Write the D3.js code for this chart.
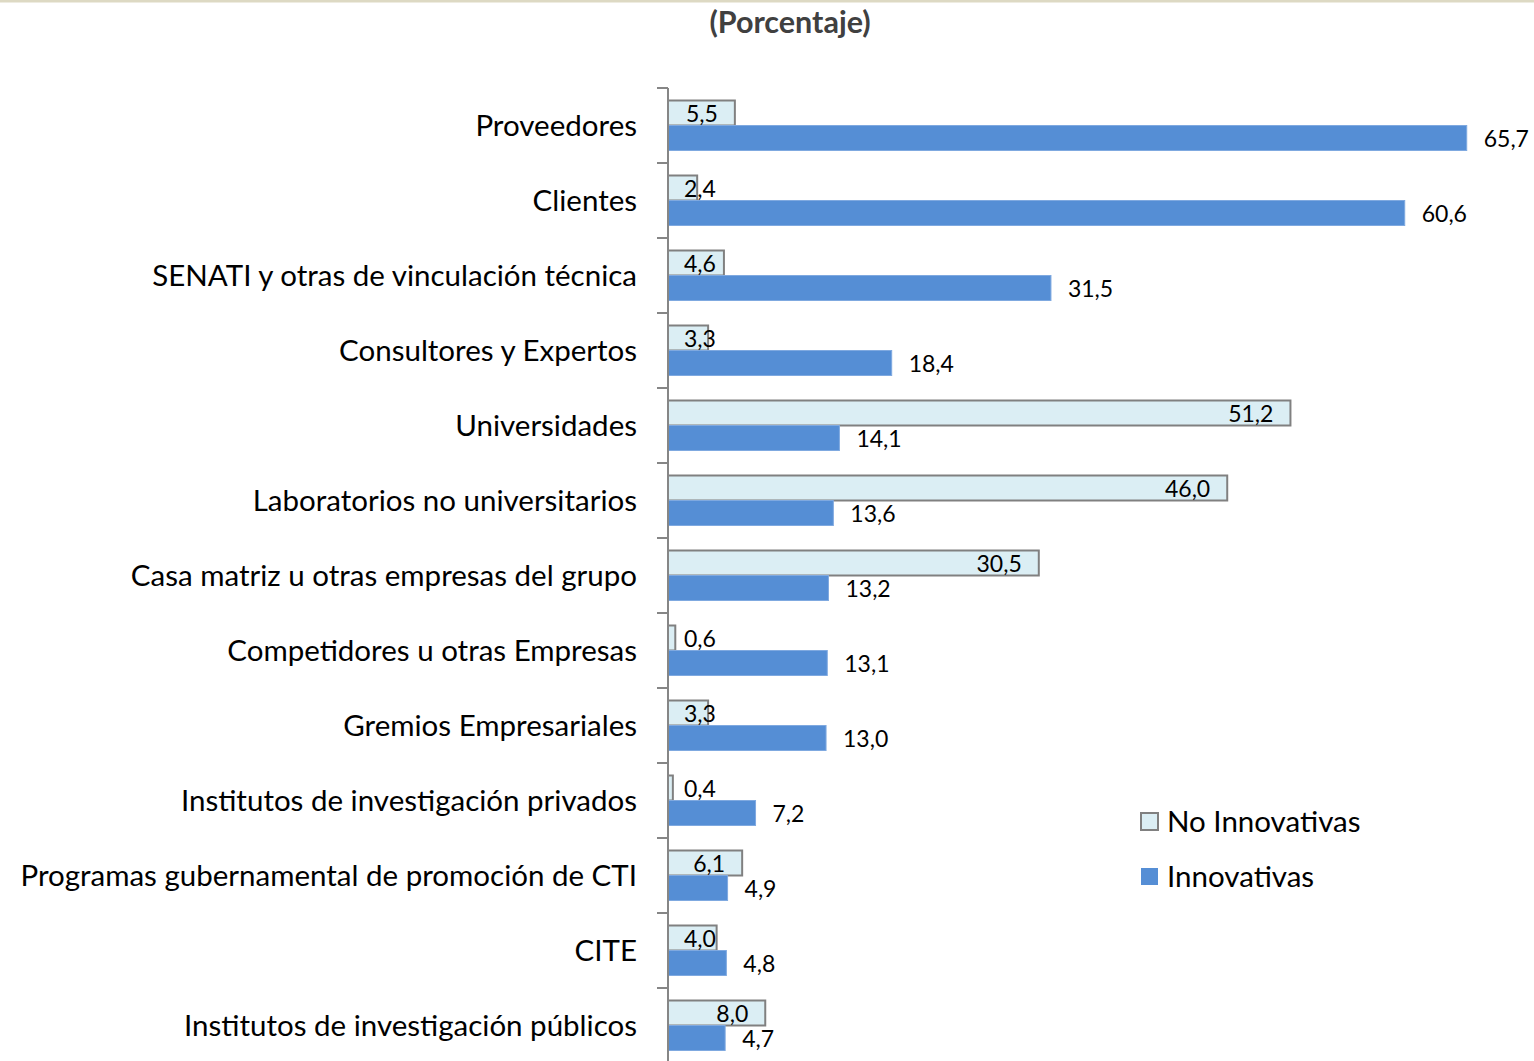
<!DOCTYPE html>
<html>
<head>
<meta charset="utf-8">
<script src="https://d3js.org/d3.v7.min.js"></script>
<style>
  body { margin: 0; background: white; }
  text { font-family: Lato, "Open Sans", sans-serif; }
</style>
</head>
<body>
<svg width="1534" height="1061"></svg>
<script>

const categories = [
  "Proveedores",
  "Clientes",
  "SENATI y otras de vinculación técnica",
  "Consultores y Expertos",
  "Universidades",
  "Laboratorios no universitarios",
  "Casa matriz u otras empresas del grupo",
  "Competidores u otras Empresas",
  "Gremios Empresariales",
  "Institutos de investigación privados",
  "Programas gubernamental de promoción de CTI",
  "CITE",
  "Institutos de investigación públicos"
]
const noInnovativas = [5.5, 2.4, 4.6, 3.3, 51.2, 46.0, 30.5, 0.6, 3.3, 0.4, 6.1, 4.0, 8.0]
const innovativas = [65.7, 60.6, 31.5, 18.4, 14.1, 13.6, 13.2, 13.1, 13.0, 7.2, 4.9, 4.8, 4.7]
const seriesNames = ["No Innovativas", "Innovativas"]
const xDomain = [0, 70]

let svg = d3.select("svg")

// thin beige rule on top
svg.append("line")
  .attr("x1", 0).attr("x2", 1534)
  .attr("y1", 1).attr("y2", 1)
  .attr("stroke", "#ddd9c3")
  .attr("stroke-width", 3)

svg.append("text")
  .attr("x", 790)
  .attr("y", 33)
  .attr("text-anchor", "middle")
  .attr("font-size", "30.5px")
  .attr("font-weight", "bold")
  .attr("fill", "#404040")
  .text("(Porcentaje)")

let x = d3.scaleLinear().domain(xDomain).range([668, 1519])
let y = d3.scaleBand().domain(categories).range([88, 88 + categories.length * 75])
let sub = d3.scaleBand().domain(seriesNames).range([12.5, 62.5])
let fmt = d3.formatLocale({decimal: ",", thousands: ".", grouping: [3], currency: ["", ""]}).format(".1f")

let color = {"No Innovativas": "#dbeef4", "Innovativas": "#558ed5"}

let rows = categories.map((c, i) => {
  return {cat: c, vals: [
    {s: "No Innovativas", v: noInnovativas[i]},
    {s: "Innovativas", v: innovativas[i]}
  ]}
})

let g = svg.append("g")

let groups = g.selectAll("g.cat")
  .data(rows)
  .join("g")
  .attr("class", "cat")
  .attr("transform", (d) => {return "translate(0," + y(d.cat) + ")"})

groups.selectAll("rect")
  .data((d) => {return d.vals})
  .join("rect")
  .attr("x", x(0))
  .attr("y", (d) => {return sub(d.s)})
  .attr("width", (d) => {return x(d.v) - x(0)})
  .attr("height", sub.bandwidth())
  .attr("fill", (d) => {return color[d.s]})
  .attr("stroke", (d) => {return d.s == "No Innovativas" ? "#808080" : "#7fa9e0"})
  .attr("stroke-width", (d) => {return d.s == "No Innovativas" ? 2 : 1})

// labels: No Innovativas inside end, Innovativas outside end
groups.selectAll("text.val")
  .data((d) => {return d.vals})
  .join("text")
  .attr("class", "val")
  .attr("font-size", "23px")
  .attr("fill", "#000")
  .attr("y", (d) => {return sub(d.s) + sub.bandwidth() / 2})
  .attr("dy", "0.41em")
  .text((d) => {return fmt(d.v)})
  .attr("x", function (d) {
    if (d.s == "Innovativas") return x(d.v) + 17
    let w = this.getComputedTextLength()
    return Math.max(x(d.v) - 17 - w, x(0) + 16)
  })

// category axis
svg.append("line")
  .attr("x1", x(0)).attr("x2", x(0))
  .attr("y1", y.range()[0]).attr("y2", y.range()[1])
  .attr("stroke", "#868686")
  .attr("stroke-width", 2)

svg.selectAll("line.tick")
  .data(categories.concat(["end"]))
  .join("line")
  .attr("class", "tick")
  .attr("x1", x(0) - 11).attr("x2", x(0))
  .attr("y1", (d, i) => {return y.range()[0] + i * y.step()})
  .attr("y2", (d, i) => {return y.range()[0] + i * y.step()})
  .attr("stroke", "#868686")
  .attr("stroke-width", 2)

svg.selectAll("text.cat")
  .data(categories)
  .join("text")
  .attr("class", "cat")
  .attr("x", 637)
  .attr("y", (d) => {return y(d) + y.bandwidth() / 2})
  .attr("dy", "0.36em")
  .attr("text-anchor", "end")
  .attr("font-size", "29.5px")
  .attr("fill", "#000")
  .text((d) => {return d})

// legend
let legend = svg.selectAll("g.legend")
  .data(seriesNames)
  .join("g")
  .attr("class", "legend")
  .attr("transform", (d, i) => {return "translate(1141," + (813 + i * 55) + ")"})

legend.append("rect")
  .attr("width", 17).attr("height", 17)
  .attr("fill", (d) => {return color[d]})
  .attr("stroke", (d) => {return d == "No Innovativas" ? "#808080" : "none"})
  .attr("stroke-width", 2)

legend.append("text")
  .attr("x", 26)
  .attr("y", 9)
  .attr("dy", "0.33em")
  .attr("font-size", "29.5px")
  .attr("fill", "#000")
  .text((d) => {return d})

</script>
</body>
</html>
